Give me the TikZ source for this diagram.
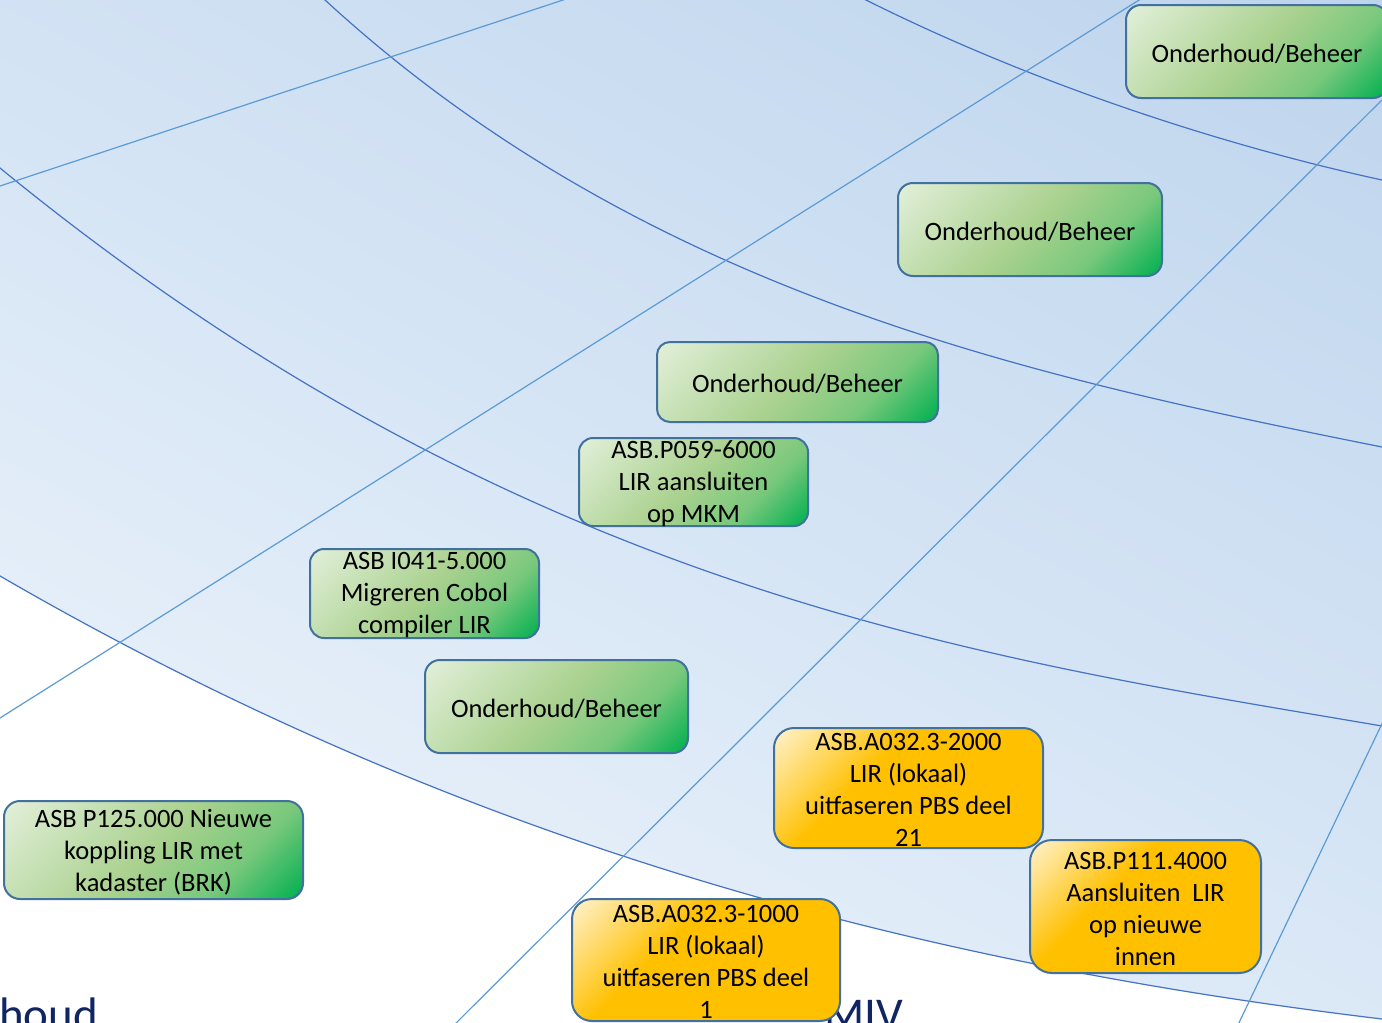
\documentclass[tikz,border=0pt]{standalone}
\usepackage{fontspec}
\setmainfont{Carlito}

\definecolor{globeA}{RGB}{244,248,253}
\definecolor{globeB}{RGB}{214,229,245}
\definecolor{globeC}{RGB}{188,211,236}
\definecolor{grnA}{RGB}{226,239,217}
\definecolor{grnB}{RGB}{169,209,142}
\definecolor{grnM}{RGB}{120,200,124}
\definecolor{grnC}{RGB}{0,176,80}
\definecolor{orgA}{RGB}{255,242,204}
\definecolor{orgB}{RGB}{255,192,0}
\definecolor{edgeblue}{RGB}{65,113,156}
\definecolor{latblue}{RGB}{68,114,196}
\definecolor{lonblue}{RGB}{91,155,213}
\definecolor{navy}{RGB}{16,38,99}

\pgfdeclarehorizontalshading{globefill}{100bp}{color(0bp)=(globeA); color(15bp)=(globeA); color(50bp)=(globeB); color(85bp)=(globeC); color(100bp)=(globeC)}
\pgfdeclarehorizontalshading{greenfill}{100bp}{color(0bp)=(grnA); color(15bp)=(grnA); color(50bp)=(grnB); color(68bp)=(grnM); color(85bp)=(grnC); color(100bp)=(grnC)}
\pgfdeclarehorizontalshading{orangefill}{100bp}{color(0bp)=(orgA); color(15bp)=(orgA); color(40bp)=(orgB); color(100bp)=(orgB)}

\begin{document}
\begin{tikzpicture}[x=1pt, y=-1pt,
latline/.style = {draw=latblue, line width=1.2pt},
lonline/.style = {draw=lonblue, line width=1.2pt},
tagbox/.style = {draw=edgeblue, line width=2pt, inner sep=0pt, shade},
greenbox/.style = {tagbox, shading=greenfill, shading angle=-45},
orangebox/.style = {tagbox, shading=orangefill, shading angle=-45},
boxtext/.style = {align=center, inner sep=0pt, yshift=-2pt, font=\fontsize{26.5}{32}\selectfont},
bigtext/.style = {text=navy, inner sep=0pt, anchor=base west, font=\fontsize{47}{56}\selectfont}
]
\useasboundingbox (0,0) rectangle (1382,1023);
\clip (0,0) rectangle (1382,1023);
\fill[white] (0,0) rectangle (1382,1023);

% globe
\shade[shading=globefill, shading angle=62] (-40,553) -- (0,576) .. controls (440,831) and (882,959) .. (1382,1019) -- (1420,1023) -- (1420,-20) -- (-40,-20) -- cycle;

% parallels
\draw[latline] (820,-23) -- (866,0) .. controls (1026,80) and (1212,143) .. (1382,180) -- (1420,188);
\draw[latline] (300,-23) -- (325,0) .. controls (645,294) and (1032,377) .. (1382,447) -- (1420,454);
\draw[latline] (-20,152) -- (0,168) .. controls (520,594) and (982,658) .. (1382,726) -- (1420,731);
\draw[latline] (-40,553) -- (0,576) .. controls (440,831) and (882,959) .. (1382,1019) -- (1420,1023);
% meridians
\draw[lonline] (-20,192.6) -- (600,-12.2);
\draw[lonline] (-20,730.6) -- (1170,-19.5);
\draw[lonline] (430,1049) -- (1410,72);
\draw[lonline] (1400,686) -- (1225,1052);

\node[bigtext] (houd) at (-1,1030) {houd};
\node[bigtext] (miv) at (824,1030) {MIV};

% werkpakketten
\node[greenbox, rounded corners=15, minimum width=262, minimum height=93] (ob1) at (1257,51.5) {};
\node[greenbox, rounded corners=15, minimum width=264, minimum height=93] (ob2) at (1030,229.5) {};
\node[greenbox, rounded corners=13, minimum width=281, minimum height=80] (ob3) at (797.5,382) {};
\node[greenbox, rounded corners=14, minimum width=229, minimum height=88] (p059) at (693.5,482) {};
\node[greenbox, rounded corners=14, minimum width=229, minimum height=89] (i041) at (424.5,593.5) {};
\node[greenbox, rounded corners=15, minimum width=263, minimum height=93] (ob4) at (556.5,706.5) {};
\node[greenbox, rounded corners=16, minimum width=299, minimum height=98] (p125) at (153.5,850) {};
\node[orangebox, rounded corners=20, minimum width=269, minimum height=120] (a2000) at (908.5,788) {};
\node[orangebox, rounded corners=22, minimum width=231, minimum height=133] (p111) at (1145.5,906.5) {};
\node[orangebox, rounded corners=20, minimum width=268, minimum height=122] (a1000) at (706,960) {};

\node[boxtext] (ob1t) at (ob1) {Onderhoud/Beheer};
\node[boxtext] (ob2t) at (ob2) {Onderhoud/Beheer};
\node[boxtext] (ob3t) at (ob3) {Onderhoud/Beheer};
\node[boxtext] (p059t) at (p059) {ASB.P059-6000\\LIR aansluiten\\op MKM};
\node[boxtext] (i041t) at (i041) {ASB I041-5.000\\Migreren Cobol\\compiler LIR};
\node[boxtext] (ob4t) at (ob4) {Onderhoud/Beheer};
\node[boxtext] (p125t) at (p125) {ASB P125.000 Nieuwe\\koppling LIR met\\kadaster (BRK)};
\node[boxtext] (a2000t) at (a2000) {ASB.A032.3-2000\\LIR (lokaal)\\uitfaseren PBS deel\\21};
\node[boxtext] (p111t) at (p111) {ASB.P111.4000\\Aansluiten~~LIR\\op nieuwe\\innen};
\node[boxtext] (a1000t) at (a1000) {ASB.A032.3-1000\\LIR (lokaal)\\uitfaseren PBS deel\\1};
\end{tikzpicture}
\end{document}
